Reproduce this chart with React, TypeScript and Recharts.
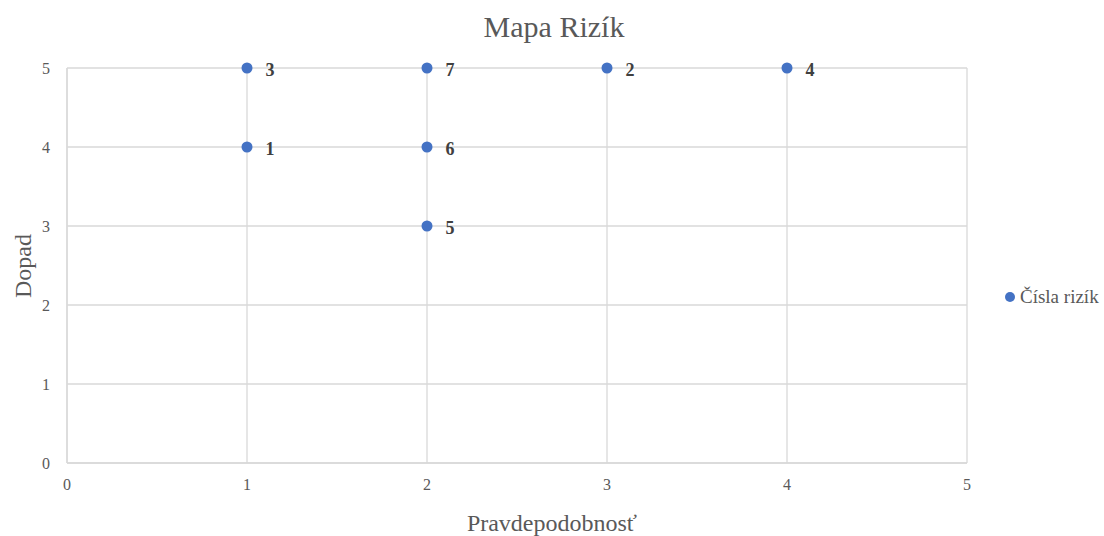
import React from 'react';
import { ScatterChart, Scatter, XAxis, YAxis, ZAxis, CartesianGrid, LabelList } from 'recharts';

const riskIds = [3, 1, 7, 6, 5, 2, 4];
const probability = [1, 1, 2, 2, 2, 3, 4];
const impact = [5, 4, 5, 4, 3, 5, 5];
const axisTicks = [0, 1, 2, 3, 4, 5];
const chartTitle = 'Mapa Rizík';
const xTitle = 'Pravdepodobnosť';
const yTitle = 'Dopad';
const seriesName = 'Čísla rizík';

const data = riskIds.map((id, i) => ({ id, x: probability[i], y: impact[i] }));

const FONT = '"Liberation Serif", "Times New Roman", serif';
const BLUE = '#4472C4';

const Dot = (props: any) => <circle cx={props.cx} cy={props.cy} r={5.5} fill={BLUE} />;

export default function App() {
  return (
    <div style={{ position: 'absolute', left: 0, top: 0, width: 1104, height: 536, background: '#fff' }}>
      <ScatterChart width={1104} height={536} margin={{ top: 68, right: 137, bottom: 33, left: 27 }}>
        <CartesianGrid stroke="#d9d9d9" strokeWidth={1.3} />
        <XAxis
          type="number"
          dataKey="x"
          domain={[0, 5]}
          ticks={axisTicks}
          height={40}
          tickLine={false}
          tickSize={0}
          tickMargin={16}
          axisLine={{ stroke: '#d9d9d9', strokeWidth: 1.3 }}
          tick={{ fill: '#595959', fontSize: 16, fontFamily: FONT }}
        />
        <YAxis
          type="number"
          dataKey="y"
          domain={[0, 5]}
          ticks={axisTicks}
          width={40}
          tickLine={false}
          tickSize={0}
          tickMargin={17}
          axisLine={{ stroke: '#d9d9d9', strokeWidth: 1.3 }}
          tick={{ fill: '#595959', fontSize: 16, fontFamily: FONT }}
        />
        <ZAxis range={[64, 64]} />
        <Scatter data={data} name={seriesName} fill={BLUE} shape={Dot} isAnimationActive={false}>
          <LabelList
            dataKey="id"
            position="right"
            offset={14}
            fill="#404040"
            fontSize={18}
            fontWeight="bold"
            fontFamily={FONT}
            dy={2}
          />
        </Scatter>
        <text x={554} y={37} textAnchor="middle" fontSize={30} fontFamily={FONT} fill="#595959">
          {chartTitle}
        </text>
        <text x={552} y={531} textAnchor="middle" fontSize={24} fontFamily={FONT} fill="#595959">
          {xTitle}
        </text>
        <text
          x={0}
          y={0}
          transform="translate(31 266) rotate(-90)"
          textAnchor="middle"
          fontSize={24}
          fontFamily={FONT}
          fill="#595959"
        >
          {yTitle}
        </text>
        <circle cx={1010} cy={297} r={5} fill={BLUE} />
        <text x={1020} y={303} fontSize={19} fontFamily={FONT} fill="#595959">
          {seriesName}
        </text>
      </ScatterChart>
    </div>
  );
}
